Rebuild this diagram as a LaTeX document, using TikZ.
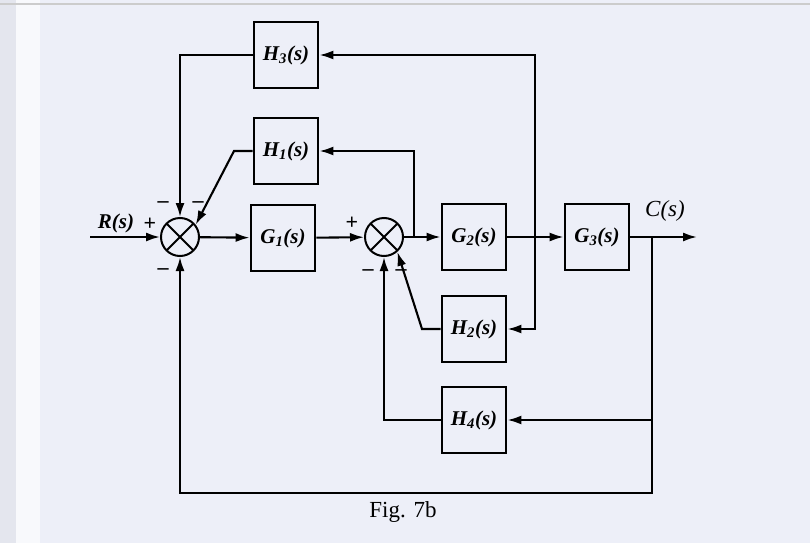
\documentclass[tikz,border=0pt]{standalone}
\usepackage{fontspec}
\setmainfont{Liberation Serif}
\usetikzlibrary{arrows.meta,calc}
\definecolor{paper}{RGB}{237,239,248}
\definecolor{strip}{RGB}{228,230,238}
\newcommand{\tf}[2]{#1\textsubscript{#2}(\textit{s})}

\begin{document}
\begin{tikzpicture}[x=1pt,y=-1pt,
  font=\fontsize{21}{23}\selectfont\bfseries\itshape,
  blk/.style={draw, line width=2.8pt, minimum width=64pt, minimum height=66pt, inner sep=0pt},
  sumj/.style={draw, circle, line width=2pt, minimum size=38pt, inner sep=0pt,
    path picture={\draw[line width=1.8pt]
      (path picture bounding box.south west) -- (path picture bounding box.north east)
      (path picture bounding box.north west) -- (path picture bounding box.south east);}},
  sig/.style={line width=2.1pt, -{Latex[length=14pt,width=9pt]}},
  wire/.style={line width=2.1pt},
  sgn/.style={font=\fontsize{22}{22}\selectfont\bfseries, inner sep=0pt},
]
% ---------- paper ----------
\fill[paper] (0,0) rectangle (810,543);
\fill[strip] (0,0) rectangle (16,543);
\fill[white!60!paper] (16,0) rectangle (40,543);
\fill[black!20] (0,3) rectangle (810,5);
\useasboundingbox (0,0) rectangle (810,543);

% ---------- forward path ----------
\coordinate (in) at (90,237);
\node[sumj] (s1) at (180,237) {};
\node[blk] (G1) at (283,238) {\tf{G}{1}};
\node[sumj] (s2) at (384,237) {};
\node[blk] (G2) at (474,237) {\tf{G}{2}};
\node[blk] (G3) at (597,237) {\tf{G}{3}};
\coordinate (out) at (697,237);

\coordinate (p1) at (414,237);
\coordinate (p2) at (535,237);
\coordinate (p3) at (652,237);

% ---------- feedback blocks ----------
\node[blk] (H3) at (286,55) {\tf{H}{3}};
\node[blk] (H1) at (286,151) {\tf{H}{1}};
\node[blk] (H2) at (474,329) {\tf{H}{2}};
\node[blk] (H4) at (474,420) {\tf{H}{4}};
\coordinate (h1k) at (234,151);
\coordinate (h2k) at (422,329);
\coordinate (fb) at (415,493);

% ---------- labels ----------
\node (Rlab) at (116,223) {R(s)};
\node[font=\fontsize{23}{25}\selectfont\itshape] (Clab) at (665,211) {C(s)};
\node[font=\fontsize{23}{25}\selectfont] (cap) at (403,512) {Fig. 7b};

\node[sgn] at (150,224) {+};
\node[sgn] at (163,205) {--};
\node[sgn] at (198,205) {--};
\node[sgn] at (163,272) {--};
\node[sgn] at (352,223) {+};
\node[sgn] at (368,273) {--};
\node[sgn] at (401,273) {--};

% ---------- connectors ----------
\draw[sig] (in) -- (s1);
\draw[sig] (s1) -- (G1);
\draw[sig] (G1) -- (s2);
\draw[sig] (s2) -- (G2);
\draw[sig] (G2) -- (G3);
\draw[sig] (G3) -- (out);

\draw[sig] (p1) |- (H1);
\draw[sig] (H1) -- (h1k) -- (s1.38);
\draw[sig] (p2) |- (H3);
\draw[sig] (H3) -| (s1);
\draw[sig] (p2) |- (H2);
\draw[sig] (H2) -- (h2k) -- (s2.-48);
\draw[sig] (p3) |- (H4);
\draw[sig] (H4) -| (s2);
\draw[wire] (p3) |- (fb);
\draw[sig] (fb) -| (s1);
\end{tikzpicture}
\end{document}
